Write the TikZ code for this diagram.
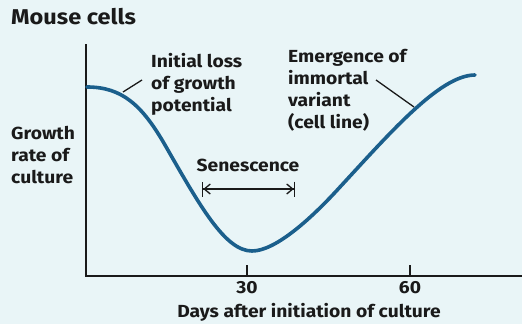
\documentclass[tikz,border=0pt]{standalone}
\usepackage{fontspec}
\setmainfont{Fira Sans}[BoldFont={Fira Sans Bold}]
\usetikzlibrary{arrows.meta}
\definecolor{bg}{HTML}{E9F5F7}
\definecolor{curve}{HTML}{1B5F8C}
\definecolor{ink}{HTML}{1A1A1A}
\begin{document}
\begin{tikzpicture}[x=1pt,y=-1pt,
  lbl/.style={font=\bfseries\fontsize{17.5}{22}\selectfont, text=ink, inner sep=0pt, align=left, xscale=1.1},
  axis/.style={draw=ink, line width=2pt},
  ptr/.style={draw=ink, line width=1.3pt}]
\fill[bg] (0,0) rectangle (522,324);
\useasboundingbox (0,0) rectangle (522,324);
% title
\node[lbl, font=\bfseries\fontsize{21.4}{24}\selectfont, anchor=west] (title) at (11,17) {Mouse cells};
% axes
\coordinate (origin) at (86,276);
\coordinate (ytop) at (86,44);
\coordinate (xend) at (522,276);
\draw[axis] (ytop) -- (origin) -- (xend);
\coordinate (t30) at (247,276);
\coordinate (t60) at (410,276);
\draw[axis] (t30) -- ++(0,-11);
\draw[axis] (t60) -- ++(0,-11);
\node[lbl] (l30) at (247,288) {30};
\node[lbl] (l60) at (410,288) {60};
\node[lbl] (xlabel) at (309,312) {Days after initiation of culture};
\node[lbl, anchor=west] (ylabel) at (11,155) {Growth\\rate of\\culture};
% curve
\draw[curve, line width=3.6pt, line cap=round]
  (87,87) .. controls (122,87) and (142,105) .. (165,145)
  .. controls (200,206) and (225,251) .. (252,251)
  .. controls (275,251) and (310,220) .. (340,187)
  .. controls (390,133) and (440,75) .. (475,75);
% labels with pointers
\node[lbl, anchor=north west] (initial) at (151,53) {Initial loss\\of growth\\potential};
\coordinate (p1a) at (123,92);
\coordinate (p1b) at (142,80);
\draw[ptr] (p1a) -- (p1b);
\node[lbl, anchor=north west] (emerg) at (288,49) {Emergence of\\immortal\\variant\\(cell line)};
\coordinate (p2a) at (376,80);
\coordinate (p2b) at (414,107);
\draw[ptr] (p2a) -- (p2b);
% senescence
\node[lbl] (sen) at (248,165) {Senescence};
\coordinate (sa) at (202,189);
\coordinate (sb) at (295,189);
\draw[ptr, {Bar[width=15pt]Straight Barb[length=6pt,width=10pt]}-{Straight Barb[length=6pt,width=10pt]Bar[width=15pt]}] (sa) -- (sb);
\end{tikzpicture}
\end{document}
